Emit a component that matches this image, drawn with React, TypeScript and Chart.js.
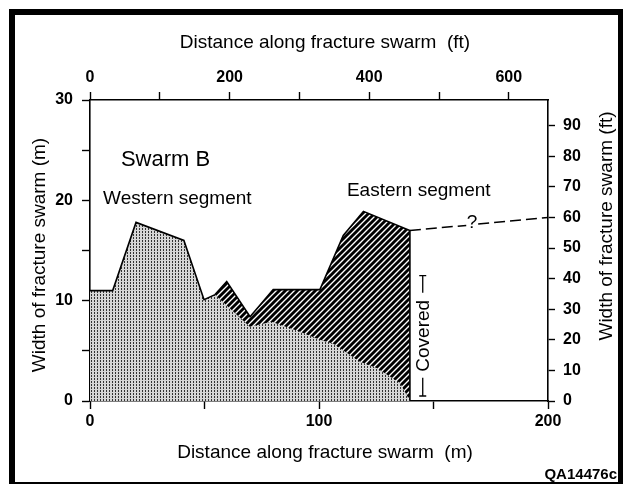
import { useEffect, useRef } from "react";
import { Chart, registerables } from "chart.js";

Chart.register(...registerables);

// Western segment (stippled) upper boundary: distance (m) / width (m)
const westX = [0, 9.9, 20.1, 41, 49.8, 54.6, 69.8, 79.3, 91.7, 100.4, 106.3, 117.9, 125.2, 135.4, 139.7];
const westY = [11.0, 11.0, 17.8, 16.0, 10.1, 10.6, 7.4, 7.9, 6.9, 6.1, 5.7, 3.9, 3.3, 1.8, 0];

// Eastern segment (hatched) upper boundary
const eastX = [54.6, 59.7, 69.9, 80, 100.4, 110.6, 119.4, 139.7, 139.7];
const eastY = [10.6, 11.9, 8.4, 11.1, 11.1, 16.5, 18.9, 17.0, 0];

// Inferred (dashed) continuation across the covered interval
const dashX = [139.7, 164.3, null, 169.5, 200];
const dashY = [17.0, 17.5, null, 17.65, 18.29];

const mTickLabels = [0, 100, 200];
const ftTopTickValues = [0, 100, 200, 300, 400, 500, 600];
const ftTopTickLabels = [0, 200, 400, 600];
const mLeftTickLabels = [0, 10, 20, 30];
const ftRightTickValues = [0, 10, 20, 30, 40, 50, 60, 70, 80, 90];

const M_TO_FT = 3.2808;
const X_MAX_M = 200;
const Y_MAX_M = 30;

const FONT = '"Liberation Sans", Arial, Helvetica, sans-serif';

const near = (v: number, list: number[]) => list.some((t) => Math.abs(t - v) < 1e-6);

function makeStipple(ctx: CanvasRenderingContext2D) {
  const t = document.createElement("canvas");
  t.width = 3;
  t.height = 3;
  const c = t.getContext("2d")!;
  c.fillStyle = "#d6d6d6";
  c.fillRect(0, 0, 3, 3);
  c.fillStyle = "#333333";
  c.fillRect(1, 0, 1, 2);
  return ctx.createPattern(t, "repeat")!;
}

function makeHatch(ctx: CanvasRenderingContext2D) {
  const s = 6;
  const t = document.createElement("canvas");
  t.width = s;
  t.height = s;
  const c = t.getContext("2d")!;
  c.fillStyle = "#ffffff";
  c.fillRect(0, 0, s, s);
  c.strokeStyle = "#000";
  c.lineWidth = 2.9;
  c.beginPath();
  c.moveTo(-1, s + 1);
  c.lineTo(s + 1, -1);
  c.moveTo(-1, 1);
  c.lineTo(1, -1);
  c.moveTo(s - 1, s + 1);
  c.lineTo(s + 1, s - 1);
  c.stroke();
  return ctx.createPattern(t, "repeat")!;
}

const annotations = {
  id: "annotations",
  afterDraw(chart: any) {
    const ctx: CanvasRenderingContext2D = chart.ctx;
    const xs = chart.scales.x;
    const ys = chart.scales.y;
    const px = (v: number) => xs.getPixelForValue(v);
    const py = (v: number) => ys.getPixelForValue(v);
    const area = chart.chartArea;
    ctx.save();
    ctx.fillStyle = "#000";
    ctx.strokeStyle = "#000";

    // axis titles
    ctx.font = `19px ${FONT}`;
    ctx.textAlign = "center";
    ctx.textBaseline = "middle";
    const cx = (area.left + area.right) / 2 + 6;
    ctx.fillText("Distance along fracture swarm  (ft)", cx, 43);
    ctx.fillText("Distance along fracture swarm  (m)", cx, 453);
    ctx.save();
    ctx.translate(40, 255);
    ctx.rotate(-Math.PI / 2);
    ctx.fillText("Width of fracture swarm (m)", 0, 0);
    ctx.restore();
    ctx.save();
    ctx.translate(607, 226);
    ctx.rotate(-Math.PI / 2);
    ctx.fillText("Width of fracture swarm (ft)", 0, 0);
    ctx.restore();

    // in-plot labels
    ctx.textAlign = "left";
    ctx.font = `22px ${FONT}`;
    ctx.fillText("Swarm B", px(13.5), py(24.0));
    ctx.font = `19px ${FONT}`;
    ctx.fillText("Western segment", px(5.7), py(20.2));
    ctx.fillText("Eastern segment", px(112.2), py(21.0));
    ctx.textAlign = "center";
    ctx.fillText("?", px(166.8), py(17.75));

    // Covered bracket
    const bx = px(145.3);
    const yTop = py(12.5);
    const yBot = py(0.5);
    const yMid = py(6.5);
    ctx.lineWidth = 1.3;
    ctx.beginPath();
    ctx.moveTo(bx, yTop);
    ctx.lineTo(bx, yMid - 43);
    ctx.moveTo(bx, yMid + 42);
    ctx.lineTo(bx, yBot);
    ctx.moveTo(bx - 3.5, yTop);
    ctx.lineTo(bx + 3.5, yTop);
    ctx.moveTo(bx - 3.5, yBot);
    ctx.lineTo(bx + 3.5, yBot);
    ctx.stroke();
    ctx.save();
    ctx.translate(bx, yMid);
    ctx.rotate(-Math.PI / 2);
    ctx.font = `19px ${FONT}`;
    ctx.textAlign = "center";
    ctx.textBaseline = "middle";
    ctx.fillText("Covered", 0, 1);
    ctx.restore();

    // figure id
    ctx.font = `bold 15px ${FONT}`;
    ctx.textAlign = "right";
    ctx.textBaseline = "alphabetic";
    ctx.fillText("QA14476c", 617, 479);

    // frame
    ctx.fillRect(9, 9, 614, 6);
    ctx.fillRect(9, 9, 6, 475);
    ctx.fillRect(618, 9, 5, 475);
    ctx.fillRect(9, 482, 614, 2);
    ctx.restore();
  },
};

export default function App() {
  const ref = useRef<HTMLCanvasElement | null>(null);

  useEffect(() => {
    const canvas = ref.current!;
    const ctx = canvas.getContext("2d")!;
    const stipple = makeStipple(ctx);
    const hatch = makeHatch(ctx);

    const tickFont = { family: FONT, size: 16, weight: "bold" as const };
    const grid = {
      drawOnChartArea: false,
      drawTicks: true,
      tickLength: 8,
      tickColor: "#000",
      tickWidth: 1.4,
    };
    const border = { color: "#000", width: 1.6 };

    const chart = new Chart(canvas, {
      type: "line",
      data: {
        datasets: [
          {
            label: "Western segment",
            data: westX.map((x, i) => ({ x, y: westY[i] })),
            fill: "origin",
            backgroundColor: stipple,
            borderColor: "#000",
            borderWidth: 1.6,
            pointRadius: 0,
            tension: 0,
            segment: {
              borderColor: (c: any) => (c.p1.parsed.x <= 55 ? "#000" : "rgba(0,0,0,0)"),
            },
          },
          {
            label: "Eastern segment",
            data: eastX.map((x, i) => ({ x, y: eastY[i] })),
            fill: "origin",
            backgroundColor: hatch,
            borderColor: "#000",
            borderWidth: 1.6,
            pointRadius: 0,
            tension: 0,
          },
          {
            label: "Inferred",
            data: dashX.map((x, i) => ({ x: x as any, y: dashY[i] as any })),
            fill: false,
            borderColor: "#000",
            borderWidth: 1.5,
            borderDash: [11, 5],
            pointRadius: 0,
            spanGaps: false,
            tension: 0,
          },
        ],
      },
      options: {
        responsive: false,
        animation: false,
        devicePixelRatio: 1,
        layout: { padding: 0 },
        plugins: {
          legend: { display: false },
          tooltip: { enabled: false },
          title: { display: false },
        },
        scales: {
          x: {
            type: "linear",
            position: "bottom",
            min: 0,
            max: X_MAX_M,
            afterFit: (s: any) => {
              s.height = 83;
            },
            ticks: {
              stepSize: 50,
              color: "#000",
              font: tickFont,
              padding: 3,
              maxRotation: 0,
              autoSkip: false,
              callback: (v: any) => (near(Number(v), mTickLabels) ? String(Math.round(Number(v))) : ""),
            },
            grid,
            border,
          },
          x2: {
            type: "linear",
            position: "top",
            min: 0,
            max: X_MAX_M * M_TO_FT,
            afterFit: (s: any) => {
              s.height = 100;
            },
            afterBuildTicks: (s: any) => {
              s.ticks = ftTopTickValues.map((v) => ({ value: v }));
            },
            ticks: {
              color: "#000",
              font: tickFont,
              padding: 5,
              maxRotation: 0,
              autoSkip: false,
              callback: (v: any) => (near(Number(v), ftTopTickLabels) ? String(Math.round(Number(v))) : ""),
            },
            grid,
            border,
          },
          y: {
            type: "linear",
            position: "left",
            min: 0,
            max: Y_MAX_M,
            afterFit: (s: any) => {
              s.width = 90;
            },
            ticks: {
              stepSize: 5,
              color: "#000",
              font: tickFont,
              padding: 9,
              autoSkip: false,
              callback: (v: any) => (near(Number(v), mLeftTickLabels) ? String(Math.round(Number(v))) : ""),
            },
            grid,
            border,
          },
          y2: {
            type: "linear",
            position: "right",
            min: 0,
            max: Y_MAX_M * M_TO_FT,
            afterFit: (s: any) => {
              s.width = 75;
            },
            afterBuildTicks: (s: any) => {
              s.ticks = ftRightTickValues.map((v) => ({ value: v }));
            },
            ticks: {
              color: "#000",
              font: tickFont,
              padding: 8,
              autoSkip: false,
              callback: (v: any) => String(Math.round(Number(v))),
            },
            grid: { ...grid, tickLength: 7 },
            border,
          },
        },
      },
      plugins: [annotations],
    });
    return () => chart.destroy();
  }, []);

  return (
    <div
      style={{
        position: "fixed",
        left: 0,
        top: 0,
        width: 623,
        height: 484,
        background: "#fff",
      }}
    >
      <canvas ref={ref} width={623} height={484} style={{ display: "block" }} />
    </div>
  );
}
